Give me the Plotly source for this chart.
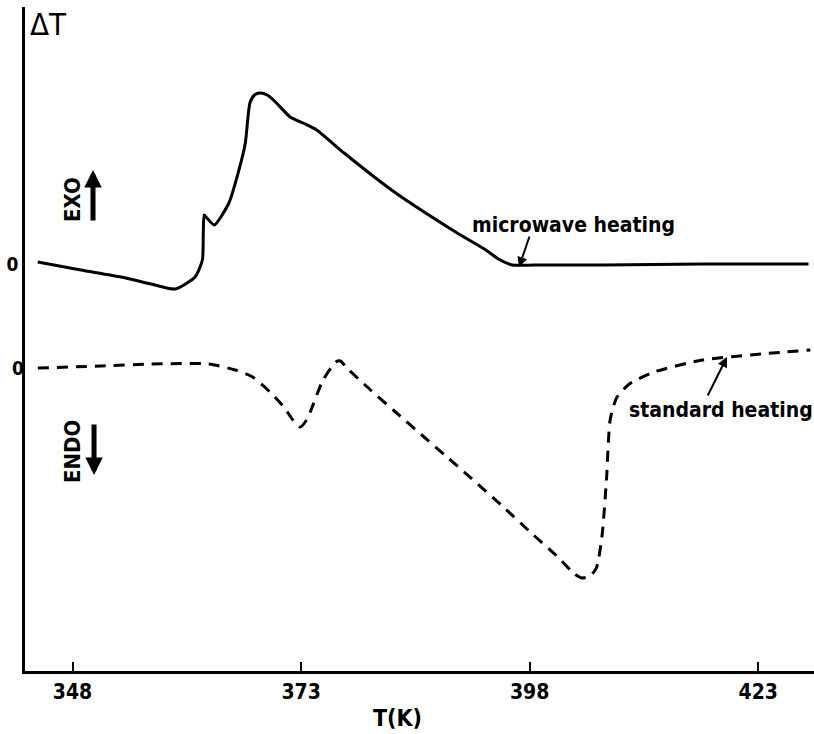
import plotly.graph_objects as go

# Microwave heating (DTA trace, arbitrary units, zero = upper baseline)
mw_T = [344.2, 348.9, 353.3, 356.6, 359.2, 361.4, 362.2, 362.3, 362.4, 362.7, 363.5, 365.1, 366.2, 366.9,
        367.4, 367.9, 368.5, 369.3, 370.2, 371.8, 373.2, 374.7, 377.7, 383.2, 389.9, 393.2, 394.6, 396.1,
        398.6, 406.2, 416.9, 428.5]
mw_dT = [0.1, -0.3, -0.65, -1.0, -1.25, -0.65, 0.2, 1.55, 2.45, 2.3, 1.95, 3.05, 4.7, 6.05,
         8.05, 8.45, 8.55, 8.45, 8.1, 7.35, 7.05, 6.7, 5.55, 3.6, 1.6, 0.7, 0.25, -0.05,
         -0.05, -0.05, 0.0, 0.0]

# Standard heating (DTA trace, arbitrary units, zero = lower baseline)
st_T = [344.2, 351.1, 356.6, 362.9, 365.8, 367.7, 369.6, 371.2, 372.1, 372.9, 373.6, 374.0, 375.4, 376.8,
        377.3, 378.0, 380.6, 383.2, 386.2, 388.7, 391.7, 395.0, 398.3, 401.2, 402.9, 403.7, 404.6, 405.3,
        405.9, 406.4, 406.8, 407.5, 408.9, 411.6, 416.9, 423.3, 428.7]
st_dT = [0.0, 0.1, 0.2, 0.2, -0.1, -0.45, -1.2, -2.0, -2.6, -2.95, -2.6, -2.2, -0.6, 0.3,
         0.35, 0.0, -1.1, -2.15, -3.35, -4.35, -5.55, -6.9, -8.3, -9.5, -10.3, -10.5, -10.4, -10.0,
         -8.45, -5.6, -2.6, -1.5, -0.8, -0.2, 0.4, 0.7, 0.9]

x_ticks = [348, 373, 398, 423]
x_ticktext = ["<b>348</b>", "<b>373</b>", "<b>398</b>", "<b>423</b>"]

FONT = "DejaVu Sans Condensed, Liberation Sans Narrow, sans-serif"

fig = go.Figure()
fig.add_trace(go.Scatter(x=mw_T, y=mw_dT, mode="lines", yaxis="y",
                         line=dict(color="black", width=3, shape="spline", smoothing=0.6),
                         name="microwave heating", showlegend=False, hoverinfo="skip"))
fig.add_trace(go.Scatter(x=st_T, y=st_dT, mode="lines", yaxis="y2",
                         line=dict(color="black", width=3, dash="11px,8px", shape="spline", smoothing=0.6),
                         name="standard heating", showlegend=False, hoverinfo="skip"))

fig.update_layout(
    width=814, height=734,
    margin=dict(l=25, r=0, t=7, b=63),
    paper_bgcolor="white", plot_bgcolor="white",
    font=dict(family=FONT, color="black"),
    xaxis=dict(range=[342.8, 429.1], tickvals=x_ticks, ticktext=x_ticktext,
               showgrid=False, zeroline=False, showline=True, linecolor="black", linewidth=2.5,
               ticks="inside", ticklen=9, tickwidth=2, tickcolor="black",
               tickfont=dict(family=FONT, size=21, color="black")),
    yaxis=dict(range=[-20.35, 12.85], tickvals=[0], ticktext=["<b>0</b>"],
               showgrid=False, zeroline=False, showline=True, linecolor="black", linewidth=2.5,
               ticks="", tickfont=dict(family=FONT, size=19, color="black")),
    yaxis2=dict(range=[-15.15, 18.05], tickvals=[0], ticktext=["<b>0</b>"], overlaying="y", side="left",
                anchor="x", showgrid=False, zeroline=False, showline=False,
                ticks="", tickfont=dict(family=FONT, size=19, color="black")),
)

C = dict(xanchor="center", yanchor="middle", xref="paper", yref="paper")
annotations = [
    dict(text="ΔT", x=0.0292, y=0.974, showarrow=False, font=dict(family=FONT, size=31, color="black"), **C),
    dict(text="<b>T(K)</b>", x=0.4727, y=-0.0708, showarrow=False,
         font=dict(family=FONT, size=23, color="black"), **C),
    dict(text="<b>EXO</b>", x=0.0596, y=0.7093, textangle=-90, showarrow=False,
         font=dict(family=FONT, size=22, color="black"), **C),
    dict(text="<b>ENDO</b>", x=0.0596, y=0.3298, textangle=-90, showarrow=False,
         font=dict(family=FONT, size=22, color="black"), **C),
    dict(text="", xref="paper", yref="paper", x=0.0862, y=0.7545, ax=0, ay=52, showarrow=True,
         arrowhead=2, arrowsize=0.7, arrowwidth=5, arrowcolor="black"),
    dict(text="", xref="paper", yref="paper", x=0.0875, y=0.2952, ax=0, ay=-52, showarrow=True,
         arrowhead=2, arrowsize=0.7, arrowwidth=5, arrowcolor="black"),
    dict(text="<b>microwave heating</b>", x=0.6958, y=0.6717, showarrow=False,
         font=dict(family=FONT, size=21, color="black"), **C),
    dict(text="", xref="paper", yref="paper", x=0.6261, y=0.6084, ax=11, ay=-32, showarrow=True,
         arrowhead=2, arrowsize=1, arrowwidth=2, arrowcolor="black"),
    dict(text="<b>standard heating</b>", x=0.882, y=0.393, showarrow=False,
         font=dict(family=FONT, size=21, color="black"), **C),
    dict(text="", xref="paper", yref="paper", x=0.8897, y=0.4729, ax=-20, ay=40, showarrow=True,
         arrowhead=2, arrowsize=1, arrowwidth=2, arrowcolor="black"),
]
fig.update_layout(annotations=annotations)

fig.write_html("out.html", config={"displayModeBar": False})
